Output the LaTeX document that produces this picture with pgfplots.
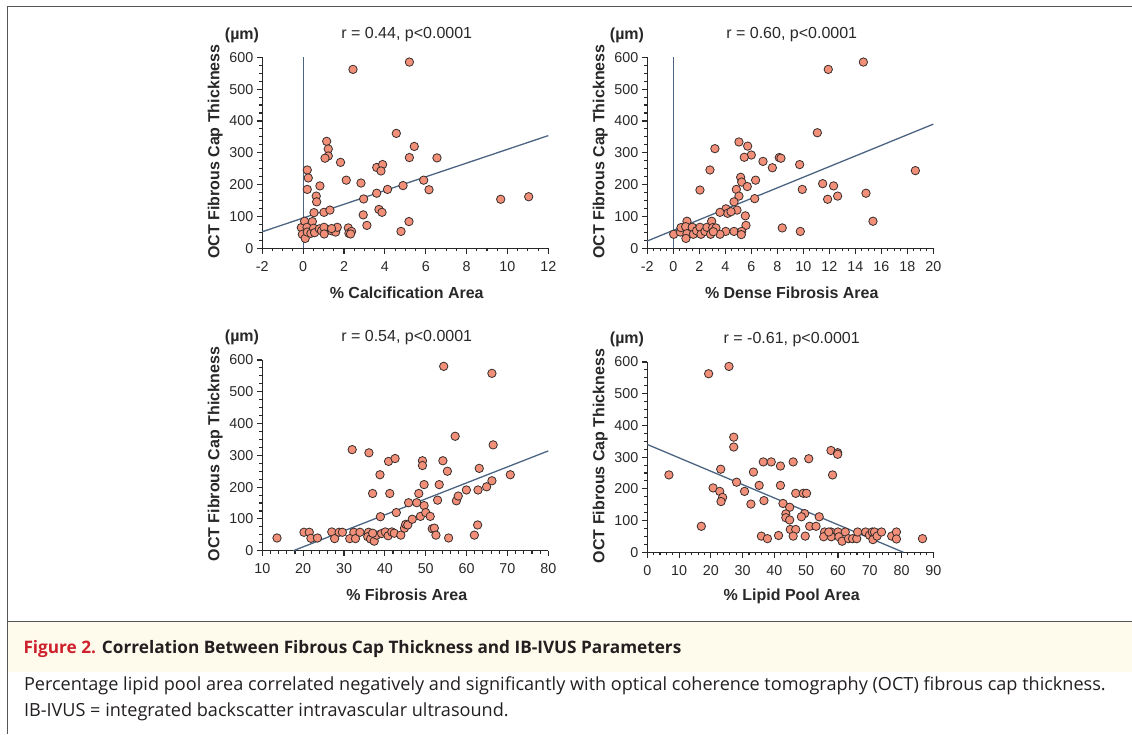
\documentclass[border=0pt]{standalone}
\usepackage{fontspec}
\setmainfont{Liberation Sans}
\newfontfamily\capfont{Open Sans}
\usepackage{pgfplots}
\pgfplotsset{compat=1.18}

\definecolor{axgray}{RGB}{40,40,40}
\definecolor{fitline}{RGB}{74,100,130}
\definecolor{dotfill}{RGB}{241,143,121}
\definecolor{dotedge}{RGB}{55,45,43}
\definecolor{capred}{RGB}{205,32,44}
\definecolor{captext}{RGB}{35,31,32}
\definecolor{capband}{RGB}{255,251,236}
\definecolor{framegray}{RGB}{85,85,85}

\pgfplotsset{
  panel/.style={
    scale only axis, width=286pt, height=191pt,
    axis lines=left, axis line style={-, line width=1.2pt, draw=axgray},
    tick align=outside, major tick length=5.5pt, minor tick length=3pt,
    tick style={line width=1.1pt, draw=axgray},
    ymin=0, ymax=600, ytick={0,100,...,600}, minor y tick num=3,
    tick label style={font=\fontsize{14.3}{16}\selectfont, text=axgray},
    xticklabel style={yshift=-4pt},
    /pgf/number format/assume math mode=true,
    label style={font=\fontsize{16}{18}\selectfont\bfseries, text=axgray},
    ylabel={OCT Fibrous Cap Thickness},
    ylabel style={at={(axis description cs:-0.165,0.506)}, anchor=center},
    xlabel style={at={(axis description cs:0.505,-0.232)}, anchor=center},
    every axis title shift=0pt,
    title style={at={(axis description cs:0.505,1.117)}, anchor=center,
      font=\fontsize{16}{18}\selectfont, text=axgray},
    extra description/.code={
      \node[font=\fontsize{16}{18}\selectfont\bfseries, text=axgray]
        at (axis description cs:-0.071,1.117) {(µm)};},
    clip=false,
  },
  dots/.style={only marks, mark=*, mark size=4.2pt,
    mark options={fill=dotfill, draw=dotedge, line width=0.8pt}},
  fit/.style={fitline, line width=1.3pt, no marks},
}

\begin{document}
\begin{tikzpicture}
\useasboundingbox (0pt,0pt) rectangle (1132pt,734pt);

% frame and caption band
\begin{scope}[x=1pt, y=1pt]
\fill[capband] (8,62.3) rectangle (1132,112);
\draw[framegray, line width=1.3pt] (7.5,0) -- (7.5,727.6) -- (1132,727.6);
\draw[framegray, line width=1.3pt] (7.5,112.3) -- (1132,112.3);
\end{scope}

% top left: calcification
\begin{axis}[panel, at={(262.3pt,485.7pt)}, anchor=south west,
  xmin=-2, xmax=12, xtick={-2,0,...,12}, minor x tick num=3,
  xlabel={\% Calcification Area}, title={r = 0.44, p<0.0001}]
\addplot[fit] coordinates {(0,0) (0,600)};
\addplot[fit] coordinates {(-2,52) (12,354)};
\addplot[dots] coordinates {
  (2.44,562) (5.2,585) (4.56,361) (5.44,320) (6.55,284) (5.2,285) (1.15,336)
  (1.23,312) (1.23,290) (1.07,283) (1.83,270) (0.2,246) (0.25,221) (0.2,185)
  (0.82,196) (0.64,164) (0.66,146) (0.53,112) (1.02,113) (1.31,120) (2.11,214)
  (2.83,205) (2.96,155) (2.94,105) (3.12,72) (3.6,254) (3.89,263) (3.81,243)
  (3.6,173) (4.13,185) (3.71,122) (3.86,113) (4.89,197) (5.9,214) (6.16,184)
  (5.18,84) (4.79,53) (9.67,154) (11.04,162) (2.21,64) (2.24,47) (2.37,53)
  (2.32,45) (-0.09,65) (-0.04,44) (0.1,31) (0.07,85) (0.19,66) (0.2,51)
  (0.38,47) (0.45,84) (0.51,63) (0.56,49) (0.79,61) (0.9,55) (1.02,66)
  (1.03,45) (1.39,55) (1.59,51) (1.67,66) (1.39,62)
};
\end{axis}

% top right: dense fibrosis
\begin{axis}[panel, at={(647.3pt,485.7pt)}, anchor=south west,
  xmin=-2, xmax=20, xtick={-2,0,...,20}, minor x tick num=3,
  xlabel={\% Dense Fibrosis Area}, title={r = 0.60, p<0.0001}]
\addplot[fit] coordinates {(0,0) (0,600)};
\addplot[fit] coordinates {(-2,23) (20,390)};
\addplot[dots] coordinates {
  (11.92,562) (14.62,585) (11.08,363) (5.05,334) (5.72,321) (3.2,313) (6.0,293)
  (5.46,286) (6.9,273) (8.15,285) (8.28,283) (7.62,253) (9.72,263) (2.82,246)
  (2.05,183) (5.18,223) (5.26,208) (5.69,194) (6.33,214) (4.85,185) (5.05,164)
  (4.67,146) (6.26,156) (4.9,120) (5.54,102) (5.59,72) (4.05,124) (4.18,110)
  (4.44,115) (3.59,113) (9.92,185) (11.49,203) (12.33,196) (11.87,154)
  (12.64,164) (14.82,173) (18.62,244) (15.36,85) (8.38,64) (9.77,53) (4.03,53)
  (4.67,53) (5.26,53) (5.23,43) (0.03,44) (0.54,51) (0.59,65) (1.05,85)
  (0.95,68) (1.05,46) (0.97,31) (1.46,66) (1.54,44) (1.79,55) (2.05,66)
  (2.13,44) (2.44,53) (2.59,66) (2.95,85) (2.87,44) (3.03,65) (3.28,64)
  (3.59,44) (3.08,52)
};
\end{axis}

% bottom left: fibrosis
\begin{axis}[panel, height=190.7pt, at={(262.3pt,183.3pt)}, anchor=south west,
  xmin=10, xmax=80, xtick={10,20,...,80}, minor x tick num=4,
  xlabel={\% Fibrosis Area}, title={r = 0.54, p<0.0001}]
\addplot[fit] coordinates {(17.6,0) (80,314)};
\addplot[dots] coordinates {
  (13.6,40) (20.2,58) (21.5,58) (21.9,39) (23.5,40) (27.0,59) (27.7,38)
  (28.8,58) (29.6,58) (32.0,318) (32.4,58) (31.4,38) (32.8,38) (33.9,58)
  (36.1,308) (37.0,180) (38.8,239) (38.9,107) (36.0,58) (35.8,44) (36.5,37)
  (37.4,30) (38.0,49) (37.0,55) (39.2,54) (40.1,59) (40.8,47) (40.9,281)
  (42.5,290) (41.2,180) (42.8,120) (41.7,59) (42.3,55) (43.9,49) (44.8,71)
  (45.1,83) (45.6,81) (45.8,151) (46.7,99) (47.8,151) (48.3,180) (48.7,108)
  (49.2,283) (49.2,268) (49.6,208) (49.6,142) (50.0,120) (51.1,108) (51.6,69)
  (52.1,71) (52.5,49) (52.9,159) (53.3,208) (54.4,580) (54.2,283) (55.3,250)
  (55.6,40) (57.2,360) (57.5,157) (57.96,172) (59.95,191) (61.9,49) (62.7,81)
  (63.1,259) (62.8,191) (64.9,201) (66.2,558) (66.5,333) (66.2,220) (70.7,239)
};
\end{axis}

% bottom right: lipid pool
\begin{axis}[panel, height=190.3pt, at={(647.3pt,181.7pt)}, anchor=south west,
  xmin=0, xmax=90, xtick={0,10,...,90}, minor x tick num=4,
  xlabel={\% Lipid Pool Area}, title={r = -0.61, p<0.0001}]
\addplot[fit] coordinates {(0,340) (80.6,0)};
\addplot[dots] coordinates {
  (6.8,244) (17.0,82) (19.3,563) (25.7,586) (27.2,363) (27.2,332) (23.1,262)
  (20.7,203) (22.8,192) (23.7,173) (23.2,160) (28.1,221) (30.6,192) (32.6,152)
  (33.4,253) (35.2,211) (36.5,285) (36.7,163) (39.0,285) (41.9,272) (41.9,211)
  (42.7,154) (44.8,142) (43.6,121) (43.6,109) (44.8,102) (45.9,285) (46.7,186)
  (49.1,186) (50.1,186) (50.8,295) (49.5,122) (48.5,112) (54.1,112) (51.1,82)
  (53.1,82) (45.0,72) (46.7,72) (35.9,51) (37.8,43) (41.3,53) (45.9,51)
  (49.7,51) (57.8,321) (59.9,314) (59.9,309) (58.3,244) (55.8,64) (55.5,49)
  (57.8,64) (57.9,49) (60.0,64) (60.3,49) (61.3,35) (62.3,64) (63.3,43)
  (64.6,43) (65.9,43) (66.2,64) (68.7,64) (69.9,54) (70.8,64) (71.0,40)
  (71.5,64) (72.3,51) (73.7,64) (76.9,51) (78.4,64) (78.4,42) (86.6,43)
  (57.1,64)
};
\end{axis}

% caption
\begin{scope}[x=1pt, y=1pt]
\node[anchor=base west, inner sep=0pt, font=\capfont\fontsize{17.2}{20}\selectfont\bfseries, text=captext]
  at (23.3,80.7) {\textcolor{capred}{Figure 2.} Correlation Between Fibrous Cap Thickness and IB-IVUS Parameters};
\node[anchor=base west, inner sep=0pt, font=\capfont\fontsize{18.1}{20}\selectfont, text=captext]
  at (23.8,43.3) {Percentage lipid pool area correlated negatively and significantly with optical coherence tomography (OCT) fibrous cap thickness.};
\node[anchor=base west, inner sep=0pt, font=\capfont\fontsize{18.1}{20}\selectfont, text=captext]
  at (23.8,17.3) {IB-IVUS = integrated backscatter intravascular ultrasound.};
\end{scope}
\end{tikzpicture}
\end{document}
